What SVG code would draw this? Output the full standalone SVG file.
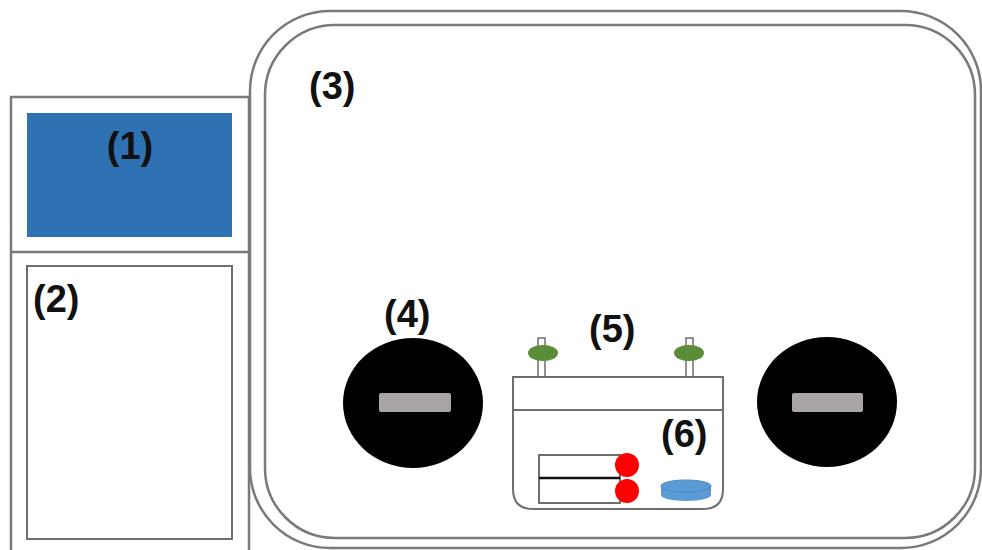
<svg xmlns="http://www.w3.org/2000/svg" width="982" height="550" viewBox="0 0 982 550">
  <style>
    .frame { fill: none; stroke: #7a7a7a; stroke-width: 2.5; }
    .box { fill: #ffffff; stroke: #6e6e6e; stroke-width: 2; }
    .label { font-family: "Liberation Sans", Arial, sans-serif; font-weight: bold; font-size: 38px; fill: #111111; }
    .disc { fill: #000000; }
    .slot { fill: #a9a5a5; }
    .knob { fill: #5b8c37; }
    .stem { fill: #ffffff; stroke: #6e6e6e; stroke-width: 1.5; }
    .dot { fill: #ff0000; }
    .dish { fill: #5b9bd5; }
  </style>
  <rect width="982" height="550" fill="#ffffff"/>

  <!-- left cabinet -->
  <g id="cabinet">
    <path class="frame" d="M11,552 V97 H249 V552"/>
    <line class="frame" x1="11" y1="252" x2="249" y2="252"/>
  </g>
  <g id="node1">
    <rect x="27" y="113" width="205" height="124" fill="#2e72b3"/>
    <text class="label" x="130" y="159" text-anchor="middle">(1)</text>
  </g>
  <g id="node2">
    <rect class="box" x="27" y="266" width="205" height="273"/>
    <text class="label" x="33" y="312">(2)</text>
  </g>

  <!-- main enclosure -->
  <g id="node3">
    <rect class="frame" x="250" y="11" width="731" height="537" rx="80" ry="80"/>
    <rect class="frame" x="265" y="25" width="710" height="513" rx="70" ry="70"/>
    <text class="label" x="309" y="99">(3)</text>
  </g>

  <!-- left disc -->
  <g id="node4">
    <ellipse class="disc" cx="413" cy="403" rx="70" ry="65"/>
    <rect class="slot" x="379" y="393" width="72" height="19" rx="2"/>
    <text class="label" x="384" y="327">(4)</text>
  </g>

  <!-- right disc -->
  <g id="node4b">
    <ellipse class="disc" cx="827" cy="402" rx="70" ry="65"/>
    <rect class="slot" x="792" y="393" width="71" height="19" rx="2"/>
  </g>

  <!-- tray -->
  <g id="node5">
    <rect class="stem" x="538" y="338" width="7" height="39"/>
    <rect class="stem" x="686" y="338" width="7" height="39"/>
    <ellipse class="knob" cx="543" cy="353" rx="15" ry="8"/>
    <ellipse class="knob" cx="689" cy="353" rx="15" ry="8"/>
    <path class="box" d="M513,377 H723 V489 Q723,509 703,509 H533 Q513,509 513,489 Z"/>
    <line class="box" x1="513" y1="410" x2="723" y2="410"/>
    <rect class="box" x="539" y="455" width="81" height="48" stroke-width="1.5"/>
    <line x1="539" y1="478" x2="620" y2="478" stroke="#111111" stroke-width="2.5"/>
    <circle class="dot" cx="627" cy="465" r="12"/>
    <circle class="dot" cx="627" cy="491" r="12"/>
    <text class="label" x="589" y="342">(5)</text>
  </g>

  <!-- sample dish -->
  <g id="node6">
    <path class="dish" d="M661,486 V495 A25,6 0 0 0 711,495 V486 Z"/>
    <ellipse class="dish" cx="686" cy="486" rx="25" ry="6" stroke="#4a86bf" stroke-width="1"/>
    <text class="label" x="661" y="447">(6)</text>
  </g>

  <g id="connectors"/>
</svg>
